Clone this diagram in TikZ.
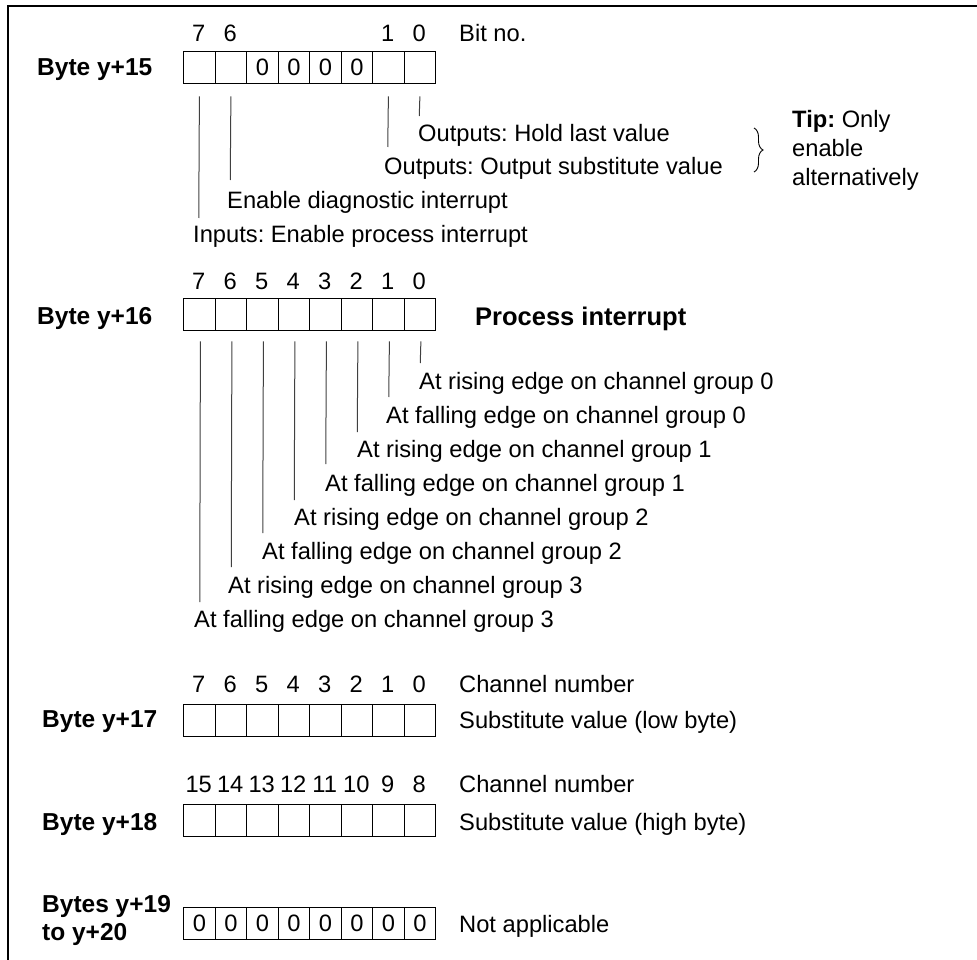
\documentclass[tikz,border=0pt]{standalone}
\usepackage{fontspec}
\setmainfont{Liberation Sans}
\usetikzlibrary{decorations.pathreplacing}
\frenchspacing
\begin{document}
\begin{tikzpicture}[x=1pt,y=-1pt,
  txt/.style={inner sep=0pt, anchor=base west, font=\fontsize{23.7}{28}\selectfont},
  lbl/.style={inner sep=0pt, anchor=base west, font=\fontsize{24.5}{28}\selectfont\bfseries},
  num/.style={inner sep=0pt, anchor=base, font=\fontsize{23.7}{28}\selectfont},
  cell/.style={draw=black, line width=1.3pt, minimum width=31.5pt, minimum height=32pt,
    inner sep=0pt, anchor=north west, font=\fontsize{23.7}{28}\selectfont},
  lead/.style={line width=1pt, draw=black!75},
  frame/.style={line width=1.4pt, draw=black}]

\useasboundingbox (0,0) rectangle (977,960);

% outer frame
\coordinate (fl) at (8,960);
\coordinate (fc) at (8,6);
\coordinate (fr) at (977,6);
\draw[frame] (fl) -- (fc) -- (fr);

% ---------- Byte y+15 ----------
\node[lbl] (b15) at (37,75.5) {Byte y+15};
\foreach \i/\t in {0/{},1/{},2/0,3/0,4/0,5/0,6/{},7/{}}
  \node[cell] (a\i) at ({183+31.5*\i},51) {\t};
\foreach \i/\t in {0/7,1/6,6/1,7/0}
  \node[num] (an\i) at ({198.75+31.5*\i},42) {\t};
\node[txt] (bitno) at (459,42) {Bit no.};

\foreach \i/\e in {0/218,1/180,6/147,7/116} {
  \coordinate (as\i) at ([yshift=-12pt]a\i.south);
  \coordinate (ae\i) at ({198.75+31.5*\i},\e);
  \draw[lead] (as\i) -- (ae\i);
}
\node[txt] (t15a) at (418,141.5) {Outputs: Hold last value};
\node[txt] (t15b) at (384,175) {Outputs: Output substitute value};
\node[txt] (t15c) at (227,208.5) {Enable diagnostic interrupt};
\node[txt] (t15d) at (193,242) {Inputs: Enable process interrupt};

\coordinate (brt) at (754,128);
\coordinate (brb) at (754,172);
\draw[line width=0.9pt, decorate, decoration={brace, amplitude=9pt}] (brt) -- (brb);
\node[txt] (tip1) at (792,128) {\textbf{Tip:} Only};
\node[txt] (tip2) at (792,157) {enable};
\node[txt] (tip3) at (792,186) {alternatively};

% ---------- Byte y+16 ----------
\node[lbl] (b16) at (37,324) {Byte y+16};
\foreach \i in {0,...,7}
  \node[cell] (p\i) at ({183+31.5*\i},298) {};
\foreach \i/\t in {0/7,1/6,2/5,3/4,4/3,5/2,6/1,7/0}
  \node[num] (pn\i) at ({198.75+31.5*\i},289.5) {\t};
\node[lbl, font=\fontsize{25.5}{30}\selectfont\bfseries] (pint) at (475,325) {Process interrupt};

\foreach \i/\e in {0/602,1/567,2/533,3/500,4/464,5/432,6/397,7/363} {
  \coordinate (ps\i) at ([xshift=1pt,yshift=-10pt]p\i.south);
  \coordinate (pe\i) at ({199.75+31.5*\i},\e);
  \draw[lead] (ps\i) -- (pe\i);
}
\node[txt] (e0) at (419,389) {At rising edge on channel group 0};
\node[txt] (e1) at (386,423) {At falling edge on channel group 0};
\node[txt] (e2) at (357,457) {At rising edge on channel group 1};
\node[txt] (e3) at (325,491) {At falling edge on channel group 1};
\node[txt] (e4) at (294,525) {At rising edge on channel group 2};
\node[txt] (e5) at (262,559) {At falling edge on channel group 2};
\node[txt] (e6) at (228,593) {At rising edge on channel group 3};
\node[txt] (e7) at (194,627) {At falling edge on channel group 3};

% ---------- Byte y+17 ----------
\node[lbl] (b17) at (42,727) {Byte y+17};
\foreach \i in {0,...,7}
  \node[cell] (l\i) at ({183+31.5*\i},704) {};
\foreach \i/\t in {0/7,1/6,2/5,3/4,4/3,5/2,6/1,7/0}
  \node[num] (ln\i) at ({198.75+31.5*\i},692) {\t};
\node[txt] (ch17) at (459,692) {Channel number};
\node[txt] (sv17) at (459,728) {Substitute value (low byte)};

% ---------- Byte y+18 ----------
\node[lbl] (b18) at (42,830) {Byte y+18};
\foreach \i in {0,...,7}
  \node[cell] (h\i) at ({183+31.5*\i},804) {};
\foreach \i/\t in {0/15,1/14,2/13,3/12,4/11,5/10,6/9,7/8}
  \node[num] (hn\i) at ({198.75+31.5*\i},792) {\t};
\node[txt] (ch18) at (459,792) {Channel number};
\node[txt] (sv18) at (459,830) {Substitute value (high byte)};

% ---------- Bytes y+19 to y+20 ----------
\node[lbl] (b19) at (42,912) {Bytes y+19};
\node[lbl] (b20) at (42,940) {to y+20};
\foreach \i in {0,...,7}
  \node[cell] (z\i) at ({183+31.5*\i},907) {0};
\node[txt] (na) at (459,932) {Not applicable};

\end{tikzpicture}
\end{document}
